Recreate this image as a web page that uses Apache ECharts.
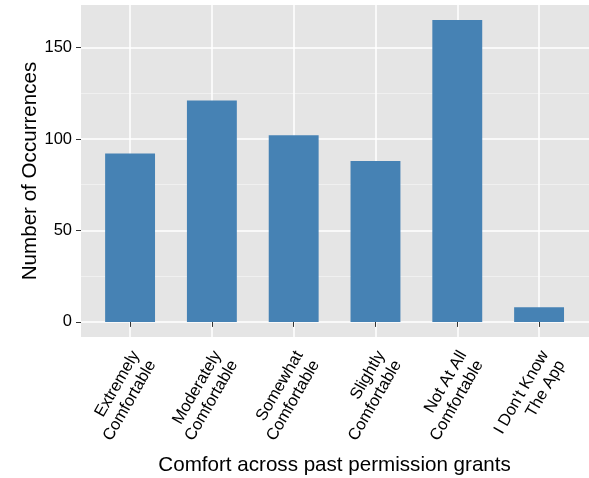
<!DOCTYPE html>
<html>
<head>
<meta charset="utf-8">
<script src="https://cdn.jsdelivr.net/npm/echarts@6/dist/echarts.min.js"></script>
<style>
    html, body { margin: 0; padding: 0; background: #fff; }
    #chart { width: 589px; height: 478px; }
</style>
</head>
<body>
<div id="chart"></div>
<script>
    // data
    var categories = [
        'Extremely\nComfortable',
        'Moderately\nComfortable',
        'Somewhat\nComfortable',
        'Slightly\nComfortable',
        'Not At All\nComfortable',
        "I Don't Know\nThe App"
    ];
    var occurrences = [92, 121, 102, 88, 165, 8];
    var yTickMin = 0;
    var yTickMax = 150;
    var yTickStep = 50;

    // ggplot-ish panel layout (pixels)
    var panelLeft = 81, panelRight = 589, panelTop = 5, panelBottom = 337;
    var yLo = -8.25, yHi = 173.25;   // 5% expansion of 0..165
    var band = 81.8;                 // width of one category

    function py(v) {
        return panelBottom - (v - yLo) / (yHi - yLo) * (panelBottom - panelTop);
    }
    var barsLeft = panelLeft + 0.1 * band;
    var barsWidth = categories.length * band;
    var panelH = panelBottom - panelTop;

    var font = 'Liberation Sans, Arial, Helvetica, sans-serif';

    var myChart = echarts.init(document.getElementById('chart'));
    myChart.setOption({
        backgroundColor: '#ffffff',
        animation: false,
        textStyle: { fontFamily: font },
        grid: [
            // grey panel
            { left: panelLeft, width: panelRight - panelLeft, top: panelTop, height: panelH, outerBoundsMode: 'none',
              show: true, backgroundColor: '#E5E5E5', borderWidth: 0, z: -1 },
            // bars
            { left: barsLeft, width: barsWidth, top: panelTop, height: panelH, outerBoundsMode: 'none' },
            // horizontal grid lines + y ticks
            { left: panelLeft, width: panelRight - panelLeft, top: py(yTickMax), height: py(yTickMin) - py(yTickMax), outerBoundsMode: 'none' },
            // vertical grid lines, first to last category centre
            { left: barsLeft + band / 2, width: (categories.length - 1) * band, top: panelTop, height: panelH, outerBoundsMode: 'none' }
        ],
        xAxis: [
            { gridIndex: 0, type: 'value', show: false },
            {
                gridIndex: 1,
                type: 'category',
                data: categories,
                z: 1,
                axisLine: { show: false },
                axisTick: { show: true, alignWithLabel: true, length: 5, lineStyle: { color: '#333333', width: 1 } },
                splitLine: { show: false },
                axisLabel: {
                    rotate: 60,
                    interval: 0,
                    fontSize: 16.5,
                    lineHeight: 19,
                    color: '#000000',
                    align: 'right',
                    verticalAlign: 'top',
                    padding: [-3, 0, 0, 0],
                    margin: 12
                },
                name: 'Comfort across past permission grants',
                nameLocation: 'middle',
                nameGap: 116,
                nameTextStyle: { fontSize: 20.6, color: '#000000' }
            },
            { gridIndex: 2, type: 'value', show: false },
            {
                gridIndex: 3,
                type: 'category',
                data: categories,
                boundaryGap: false,
                z: 1,
                axisLine: { show: false },
                axisTick: { show: false },
                axisLabel: { show: false, interval: 0 },
                splitLine: { show: true, interval: 0, lineStyle: { color: '#ffffff', width: 1.5 } }
            }
        ],
        yAxis: [
            {
                gridIndex: 0,
                type: 'value',
                min: yLo,
                max: yHi,
                axisLine: { show: false },
                axisTick: { show: false },
                axisLabel: { show: false },
                splitLine: { show: false },
                name: 'Number of Occurrences',
                nameLocation: 'middle',
                nameRotate: 90,
                nameGap: 40,
                nameTextStyle: { fontSize: 20.6, color: '#000000' }
            },
            { gridIndex: 1, type: 'value', min: yLo, max: yHi, show: false },
            {
                gridIndex: 2,
                type: 'value',
                min: yTickMin,
                max: yTickMax,
                interval: yTickStep,
                z: 1,
                axisLine: { show: false },
                axisTick: { show: true, length: 5, lineStyle: { color: '#333333', width: 1 } },
                axisLabel: { fontSize: 16.5, color: '#000000', margin: 9 },
                splitLine: { show: true, lineStyle: { color: '#ffffff', width: 1.5 } },
                minorTick: { show: false, splitNumber: 2 },
                minorSplitLine: { show: true, lineStyle: { color: '#F2F2F2', width: 0.8 } }
            },
            { gridIndex: 3, type: 'value', show: false }
        ],
        series: [
            {
                name: 'Number of Occurrences',
                type: 'bar',
                xAxisIndex: 1,
                yAxisIndex: 1,
                data: occurrences,
                barWidth: '61%',
                z: 2,
                itemStyle: { color: '#4682B4' }
            }
        ]
    });
</script>
</body>
</html>
